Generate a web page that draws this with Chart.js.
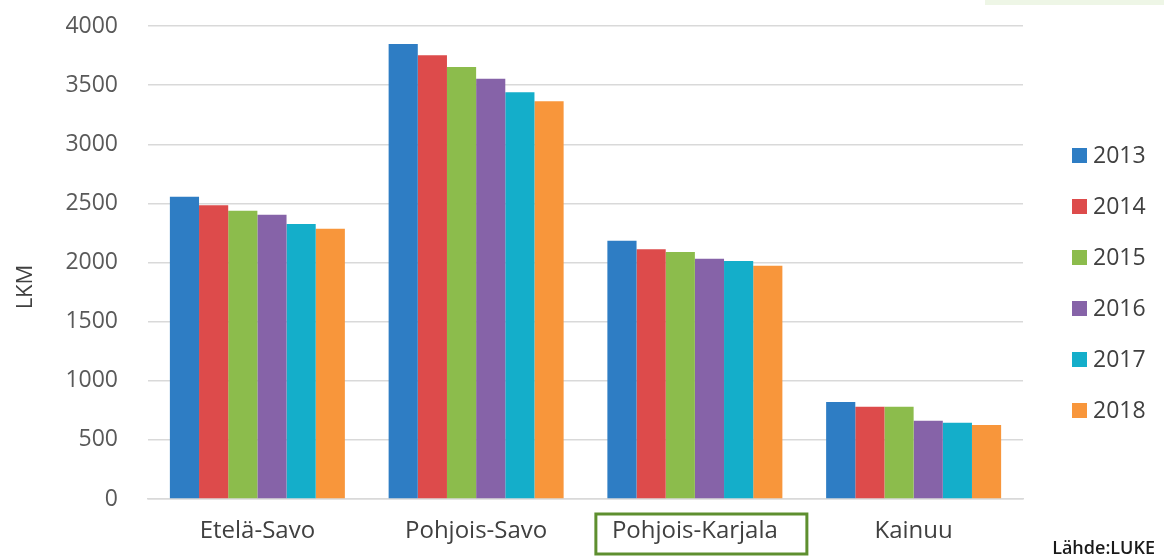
<!DOCTYPE html>
<html>
<head>
<meta charset="utf-8">
<script src="https://cdn.jsdelivr.net/npm/chart.js@4.4.1/dist/chart.umd.min.js"></script>
<style>
	html, body { margin: 0; padding: 0; background: #fff; }
	#wrap { width: 1164px; height: 558px; position: relative; }
</style>
</head>
<body>
<div id="wrap"><canvas id="myChart" width="1164" height="558"></canvas></div>
<script>
const regions = ['Etelä-Savo', 'Pohjois-Savo', 'Pohjois-Karjala', 'Kainuu'];
const years = ['2013', '2014', '2015', '2016', '2017', '2018'];
const colors = ['#2E7DC4', '#DD4B4B', '#8CBC4C', '#8663A8', '#14AECA', '#F8963B'];
const v2013 = [2555, 3848, 2184, 820];
const v2014 = [2484, 3752, 2111, 781];
const v2015 = [2438, 3653, 2089, 780];
const v2016 = [2404, 3554, 2032, 662];
const v2017 = [2325, 3439, 2013, 645];
const v2018 = [2286, 3363, 1973, 626];
const series = [v2013, v2014, v2015, v2016, v2017, v2018];
const yTitle = 'LKM';
const boxedLabel = 'Pohjois-Karjala';
const source = 'Lähde:LUKE';

const font = "'Open Sans', sans-serif";

// legend on the right, axis title, green frame round one label, source text
const extras = {
	id: 'extras',
	afterDraw(chart) {
		const ctx = chart.ctx;
		const x = chart.scales.x;
		ctx.save();
		// legend
		ctx.font = "23px " + font;
		ctx.textBaseline = 'middle';
		ctx.textAlign = 'left';
		chart.data.datasets.forEach((ds, k) => {
			let y = 155 + k * 51;
			ctx.fillStyle = ds.backgroundColor;
			ctx.fillRect(1072, y - 7, 15, 15);
			ctx.fillStyle = '#404040';
			ctx.fillText(ds.label, 1093, y + 1);
		});
		// y title
		ctx.save();
		ctx.translate(26, 287);
		ctx.rotate(-Math.PI / 2);
		ctx.textAlign = 'center';
		ctx.font = "22px " + font;
		ctx.fillText(yTitle, 0, 0);
		ctx.restore();
		// frame
		const cx = x.getPixelForValue(regions.indexOf(boxedLabel));
		ctx.strokeStyle = '#5E8F2F';
		ctx.lineWidth = 3;
		ctx.strokeRect(cx - 99, 514, 211, 40);
		// source
		ctx.fillStyle = '#1A1A1A';
		ctx.font = "600 18px " + font;
		ctx.textAlign = 'right';
		ctx.fillText(source, 1155, 549);
		ctx.fillStyle = '#EEF6E6';
		ctx.fillRect(985, 0, 179, 5);
		ctx.restore();
	}
};

const canvas = document.getElementById('myChart').getContext('2d');
const chart = new Chart(canvas, {
	type: 'bar',
	data: {
		labels: regions,
		datasets: years.map((y, k) => ({
			label: y,
			data: series[k],
			backgroundColor: colors[k],
			barPercentage: 1,
			categoryPercentage: 0.8,
		})),
	},
	options: {
		responsive: false,
		animation: false,
		layout: { padding: { top: 0, left: 0, right: 141, bottom: 0 } },
		plugins: {
			legend: { display: false },
			tooltip: { enabled: false },
		},
		scales: {
			x: {
				grid: { display: false, drawTicks: false },
				border: { color: '#D9D9D9', width: 1.5 },
				ticks: { color: '#404040', padding: 18, font: { family: font, size: 24 } },
				afterFit: (s) => { s.height = 59; },
			},
			y: {
				min: 0,
				max: 4000,
				ticks: {
					stepSize: 500,
					color: '#595959',
					padding: 30,
					font: { family: font, size: 23 },
					callback: (v) => String(v),
				},
				grid: { color: '#D9D9D9', lineWidth: 1.5, drawTicks: false },
				border: { display: false },
				afterFit: (s) => { s.width = 148; s.paddingTop = 26; s.paddingBottom = 14; },
			},
		},
	},
	plugins: [extras],
});
</script>
</body>
</html>
